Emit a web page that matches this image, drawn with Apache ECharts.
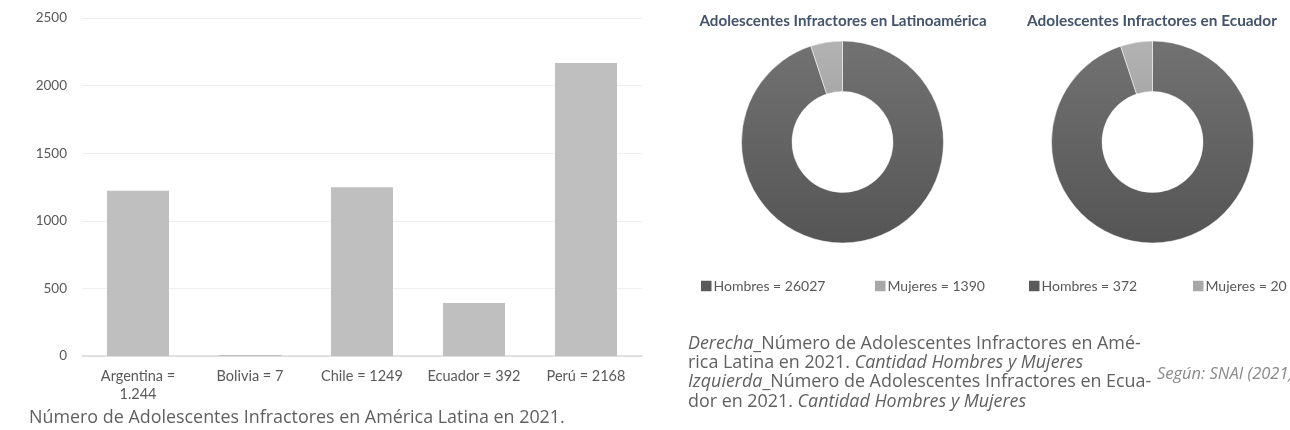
<!DOCTYPE html>
<html>
<head>
<meta charset="utf-8">
<script src="https://cdn.jsdelivr.net/npm/echarts@6/dist/echarts.min.js"></script>
<style>
html,body{margin:0;padding:0;background:#fff;}
#c{width:1290px;height:430px;}
</style>
</head>
<body>
<div id="c"></div>
<script>
// ---- Data ----
const countries = ['Argentina =\n1.244', 'Bolivia = 7', 'Chile = 1249', 'Ecuador = 392', 'Perú = 2168'];
const countryValues = [1222, 7, 1249, 392, 2168];
const yTicks = [0, 500, 1000, 1500, 2000, 2500];

const genders = ['Hombres', 'Mujeres'];
const latamValues = [26027, 1390];
const ecuadorValues = [372, 20];

const donutTitles = ['Adolescentes Infractores en Latinoamérica', 'Adolescentes Infractores en Ecuador'];

// ---- Styles ----
const darkGrad = new echarts.graphic.LinearGradient(0, 0, 0, 1, [
  {offset: 0, color: '#727272'}, {offset: 1, color: '#555555'}]);
const lightGrad = new echarts.graphic.LinearGradient(0, 0, 0, 1, [
  {offset: 0, color: '#b3b3b3'}, {offset: 1, color: '#a8a8a8'}]);
const sliceColors = [darkGrad, lightGrad];
const legendColors = ['#5a5a5a', '#a8a8a8'];

function pieData(values) {
  return genders.map((g, i) => ({
    name: g + ' = ' + values[i],
    value: values[i],
    itemStyle: {color: sliceColors[i]}
  }));
}
const latamData = pieData(latamValues);
const ecuadorData = pieData(ecuadorValues);

function legendItem(name, color, left) {
  return {
    left: left, top: 274, orient: 'horizontal',
    icon: 'rect', itemWidth: 10.5, itemHeight: 10.5, itemGap: 0,
    selectedMode: false,
    data: [{name: name, itemStyle: {color: color, borderWidth: 0}}],
    textStyle: {fontFamily: 'Lato', fontSize: 14, color: '#595959', padding: [0, 0, 0, -3]}
  };
}

const chart = echarts.init(document.getElementById('c'), null, {renderer: 'canvas'});
const capFont = '"Open Sans"';
chart.setOption({
  animation: false,
  backgroundColor: '#ffffff',
  grid: {left: 82, right: 1290 - 642, top: 18, bottom: 74, containLabel: false},
  xAxis: {
    type: 'category',
    data: countries,
    axisTick: {show: false},
    axisLine: {lineStyle: {color: '#d9d9d9', width: 1.5}},
    axisLabel: {
      color: '#595959', fontFamily: 'Lato', fontSize: 14.5, margin: 11,
      lineHeight: 18, interval: 0
    }
  },
  yAxis: {
    type: 'value', min: yTicks[0], max: yTicks[yTicks.length - 1], interval: yTicks[1] - yTicks[0],
    axisLine: {show: false}, axisTick: {show: false},
    splitLine: {lineStyle: {color: '#eeeeee', width: 1}},
    axisLabel: {color: '#595959', fontFamily: 'Lato', fontSize: 13.5, margin: 15,
                formatter: v => String(v)}
  },
  title: [
    {text: donutTitles[0], left: 838, top: 9, textAlign: 'center',
     textStyle: {fontFamily: 'Lato', fontWeight: 'bold', fontSize: 15.2, color: '#44546a'}},
    {text: donutTitles[1], left: 1147, top: 9, textAlign: 'center',
     textStyle: {fontFamily: 'Lato', fontWeight: 'bold', fontSize: 15.4, color: '#44546a'}}
  ],
  legend: [
    legendItem(latamData[0].name, legendColors[0], 696),
    legendItem(latamData[1].name, legendColors[1], 870),
    legendItem(ecuadorData[0].name, legendColors[0], 1024),
    legendItem(ecuadorData[1].name, legendColors[1], 1188)
  ],
  series: [
    {
      type: 'bar', data: countryValues, barWidth: 62, silent: true,
      itemStyle: {color: '#bfbfbf'}
    },
    {
      type: 'pie', center: [842.5, 142], radius: [50.5, 101], silent: true,
      startAngle: 90, clockwise: true, label: {show: false}, labelLine: {show: false},
      itemStyle: {borderColor: '#ffffff', borderWidth: 0.5},
      data: latamData
    },
    {
      type: 'pie', center: [1152.5, 142], radius: [50.5, 101], silent: true,
      startAngle: 90, clockwise: true, label: {show: false}, labelLine: {show: false},
      itemStyle: {borderColor: '#ffffff', borderWidth: 0.5},
      data: ecuadorData
    }
  ],
  graphic: [
    {type: 'text', left: 29, top: 409, silent: true,
     style: {text: 'Número de Adolescentes Infractores en América Latina en 2021.',
             font: '17.9px ' + capFont, fill: '#606060'}},
    {type: 'text', left: 688, top: 334, silent: true,
     style: {
       text: '{i|Derecha}_Número de Adolescentes Infractores en Amé-\n' +
             'rica Latina en 2021. {i|Cantidad Hombres y Mujeres}\n' +
             '{i|Izquierda}_Número de Adolescentes Infractores en Ecua-\n' +
             'dor en 2021. {i|Cantidad Hombres y Mujeres}',
       font: '17.9px ' + capFont, fill: '#606060', lineHeight: 19.3,
       rich: {i: {fontStyle: 'italic', fontFamily: 'Open Sans', fontSize: 17.9, fill: '#606060', lineHeight: 19.3}}
     }},
    {type: 'text', left: 1157, top: 366, silent: true,
     style: {text: 'Según: SNAI (2021)', font: 'italic 16.5px ' + capFont, fill: '#8a8a8a'}}
  ]
});
</script>
</body>
</html>
